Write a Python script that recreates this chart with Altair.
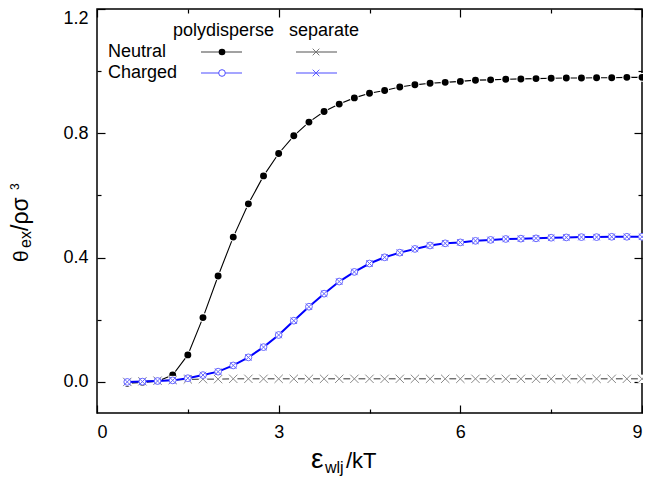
import altair as alt
import pandas as pd

# ---------------- data ----------------
eps = [0.5, 0.75, 1.0, 1.25, 1.5, 1.75, 2.0, 2.25, 2.5, 2.75, 3.0, 3.25,
       3.5, 3.75, 4.0, 4.25, 4.5, 4.75, 5.0, 5.25, 5.5, 5.75, 6.0, 6.25,
       6.5, 6.75, 7.0, 7.25, 7.5, 7.75, 8.0, 8.25, 8.5, 8.75, 9.0]

neutral_poly = [-0.004, -0.002, 0.002, 0.022, 0.087, 0.207, 0.341, 0.466, 0.573,
                0.663, 0.735, 0.792, 0.836, 0.870, 0.894, 0.914, 0.929, 0.938,
                0.949, 0.956, 0.961, 0.964, 0.967, 0.971, 0.972, 0.974, 0.975,
                0.976, 0.977, 0.978, 0.978, 0.979, 0.979, 0.980, 0.980]

neutral_sep = [0.0, 0.002, 0.004, 0.006, 0.008, 0.009, 0.009, 0.010, 0.010,
               0.010, 0.010, 0.010, 0.010, 0.010, 0.010, 0.010, 0.010, 0.010,
               0.010, 0.010, 0.010, 0.010, 0.010, 0.010, 0.010, 0.010, 0.010,
               0.010, 0.010, 0.010, 0.010, 0.010, 0.010, 0.010, 0.010]

charged_poly = [0.0, 0.001, 0.003, 0.005, 0.012, 0.022, 0.033, 0.053, 0.079,
                0.112, 0.151, 0.197, 0.242, 0.284, 0.323, 0.354, 0.381, 0.401,
                0.416, 0.428, 0.439, 0.446, 0.449, 0.454, 0.457, 0.460, 0.461,
                0.462, 0.464, 0.465, 0.466, 0.466, 0.467, 0.467, 0.467]

charged_sep = [0.0, 0.001, 0.003, 0.005, 0.012, 0.022, 0.033, 0.053, 0.079,
               0.112, 0.151, 0.197, 0.242, 0.284, 0.323, 0.354, 0.381, 0.401,
               0.416, 0.428, 0.439, 0.446, 0.449, 0.454, 0.457, 0.460, 0.461,
               0.462, 0.464, 0.465, 0.466, 0.466, 0.467, 0.467, 0.467]

x_major = [0, 3, 6, 9]
x_minor = [1.5, 4.5, 7.5]
y_major = [0.0, 0.4, 0.8, 1.2]
y_minor = [0.2, 0.6, 1.0]

df = pd.DataFrame({"x": eps, "np": neutral_poly, "ns": neutral_sep,
                   "cp": charged_poly, "cs": charged_sep})

W, H = 545, 404
FONT = "Liberation Sans"
XPATH = "M-1,-1L1,1M-1,1L1,-1"

xs = alt.Scale(domain=[0, 9], nice=False, zero=False)
ys = alt.Scale(domain=[-0.1, 1.2], nice=False, zero=False)


def enc(field):
    return dict(x=alt.X("x:Q", scale=xs, axis=None),
                y=alt.Y(f"{field}:Q", scale=ys, axis=None))


layers = []

# ---- neutral polydisperse: black line + filled circles
layers.append(alt.Chart(df).mark_line(color="black", strokeWidth=1.1).encode(**enc("np")))
layers.append(alt.Chart(df).mark_point(shape="circle", filled=True, color="white", opacity=1, size=80).encode(**enc("np")))
layers.append(alt.Chart(df).mark_point(shape="circle", filled=True, color="black", opacity=1, size=48).encode(**enc("np")))

# ---- neutral separate: dark line + gray crosses
layers.append(alt.Chart(df).mark_line(color="#333333", strokeWidth=1).encode(**enc("ns")))
layers.append(alt.Chart(df).mark_point(shape="square", filled=True, color="white", opacity=1, size=70).encode(**enc("ns")))
layers.append(alt.Chart(df).mark_point(shape=XPATH, filled=False, color="#8a8a8a", opacity=1, size=70, strokeWidth=1).encode(**enc("ns")))

# ---- charged polydisperse: blue line + open circles
layers.append(alt.Chart(df).mark_line(color="#0000ff", strokeWidth=2).encode(**enc("cp")))
layers.append(alt.Chart(df).mark_point(shape="circle", filled=True, color="white", opacity=1, size=46).encode(**enc("cp")))
layers.append(alt.Chart(df).mark_point(shape="circle", filled=False, color="#6666ff", opacity=1, size=46, strokeWidth=1).encode(**enc("cp")))

# ---- charged separate: crosses
layers.append(alt.Chart(df).mark_point(shape=XPATH, filled=False, color="#6666ff", opacity=1, size=42, strokeWidth=1).encode(**enc("cs")))

# ---- axes (inward ticks on all four sides) via invisible layers
base_ax = dict(domain=False, grid=False, title=None)


def axis_layer(ax_x, ax_y):
    return alt.Chart(df).mark_point(opacity=0).encode(
        x=alt.X("x:Q", scale=xs, axis=ax_x),
        y=alt.Y("np:Q", scale=ys, axis=ax_y))


ax_x_labels = alt.Axis(orient="bottom", values=x_major, ticks=False, labels=True,
                       format="d", labelFont=FONT, labelFontSize=18, labelColor="black",
                       labelPadding=10, labelOverlap=False, **base_ax)
ax_y_labels = alt.Axis(orient="left", values=y_major, ticks=False, labels=True,
                       format=".1f", labelFont=FONT, labelFontSize=18, labelColor="black",
                       labelPadding=9, labelOverlap=False, labelFlush=True,
                       labelFlushOffset=0, **base_ax)
layers.append(axis_layer(ax_x_labels, ax_y_labels))


def tick_axis(orient, values, size, offset):
    return alt.Axis(orient=orient, values=values, ticks=True, labels=False,
                    tickSize=size, tickColor="black", tickWidth=1.2,
                    offset=offset, **base_ax)


layers.append(axis_layer(tick_axis("top", x_major, 8, -H), tick_axis("right", y_major, 8, -W)))
layers.append(axis_layer(tick_axis("top", x_minor, 4, -H), tick_axis("right", y_minor, 4, -W)))
layers.append(axis_layer(tick_axis("bottom", x_major, 8, -H), tick_axis("left", y_major, 8, -W)))
layers.append(axis_layer(tick_axis("bottom", x_minor, 4, -H), tick_axis("left", y_minor, 4, -W)))

one = pd.DataFrame({"k": [0]})


def txt(s, x, y, size, angle=0, align="left", baseline="alphabetic", color="black"):
    kw = dict(text=s, font=FONT, fontSize=size, align=align, baseline=baseline, color=color)
    if angle:
        kw["angle"] = angle
    return alt.Chart(one).mark_text(**kw).encode(x=alt.value(x), y=alt.value(y))


# ---- axis titles (with sub/superscripts)
layers.append(txt("ε", 214, 459, 28))
layers.append(txt("wlj", 228, 464, 16))
layers.append(txt("/kT", 249, 459, 22))

layers.append(txt("θ", -69, 253, 21, angle=270))
layers.append(txt("ex", -66, 239, 16, angle=270))
layers.append(txt("/ρσ", -69, 222, 23, angle=270))
layers.append(txt("3", -78, 181, 12, angle=270))

# ---- legend
layers.append(txt("polydisperse", 76, 22, 18, baseline="middle"))
layers.append(txt("separate", 192, 22, 18, baseline="middle"))
layers.append(txt("Neutral", 11, 43, 18, baseline="middle"))
layers.append(txt("Charged", 11, 64, 18, baseline="middle"))


def leg_line(x1, x2, y, color, width=1.2):
    return alt.Chart(one).mark_rule(color=color, strokeWidth=width).encode(
        x=alt.value(x1), x2=alt.value(x2), y=alt.value(y))


def leg_pt(x, y, shape, color, filled, size, fill=None):
    kw = dict(shape=shape, color=color, filled=filled, size=size, opacity=1, strokeWidth=1)
    if fill:
        kw["fill"] = fill
    return alt.Chart(one).mark_point(**kw).encode(x=alt.value(x), y=alt.value(y))


layers.append(leg_line(104, 145, 43, "#444444"))
layers.append(leg_pt(125, 43, "circle", "black", True, 44))
layers.append(leg_line(104, 145, 64, "#4d4dff"))
layers.append(leg_pt(125, 64, "circle", "#4d4dff", False, 44, fill="white"))
layers.append(leg_line(199, 240, 43, "#555555"))
layers.append(leg_pt(219, 43, XPATH, "#777777", False, 44))
layers.append(leg_line(199, 240, 64, "#4d4dff"))
layers.append(leg_pt(219, 64, XPATH, "#5c5cff", False, 44))

chart = alt.layer(*layers).resolve_axis(x="independent", y="independent").properties(
    width=W, height=H,
    autosize=alt.AutoSizeParams(type="none"),
    padding={"left": 89, "top": 1, "right": 1, "bottom": 64},
).configure_view(stroke="black", strokeWidth=1.5).configure_axis(grid=False)

chart.save("out.html", embed_options={"renderer": "svg", "actions": False})
